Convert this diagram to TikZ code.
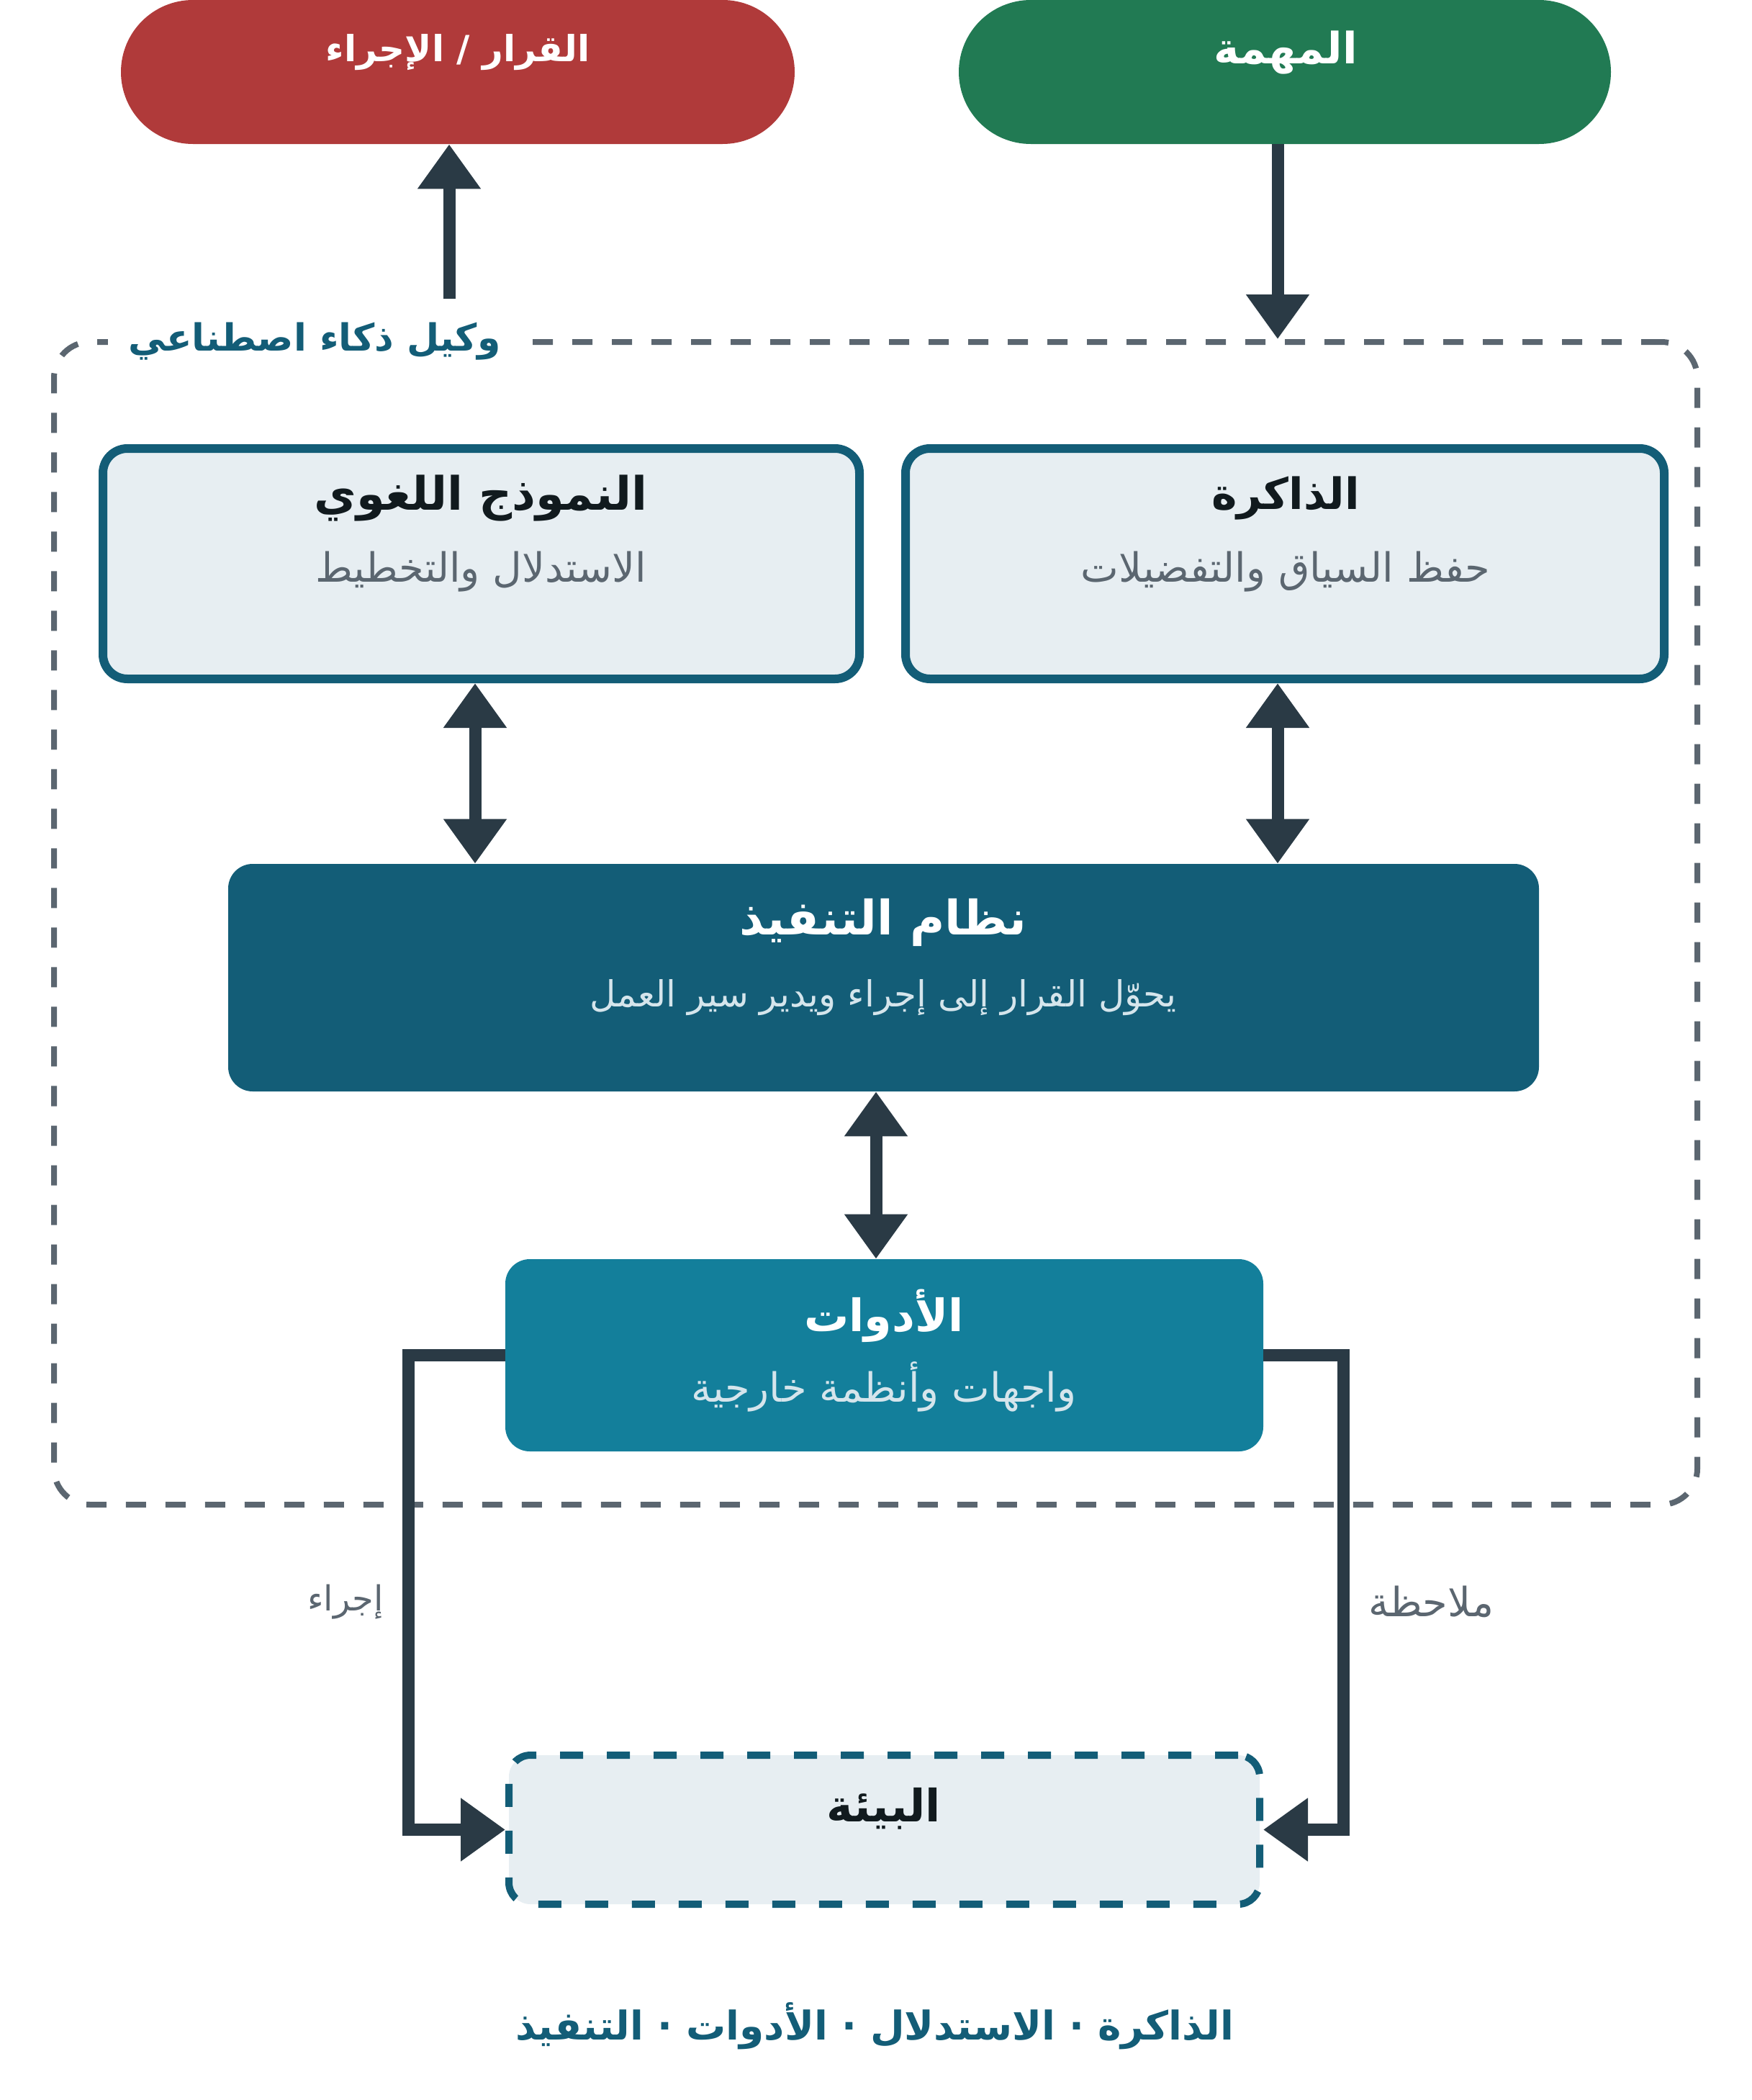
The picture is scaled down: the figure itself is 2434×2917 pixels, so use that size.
\documentclass[tikz,border=0pt]{standalone}
\usepackage{fontspec}
\usetikzlibrary{arrows.meta}
\TeXXeTstate=1
\newfontfamily\arabicfont[Script=Arabic]{DejaVu Sans}
\definecolor{redpill}{HTML}{B03A3A}
\definecolor{greenpill}{HTML}{217A53}
\definecolor{arrowdark}{HTML}{2A3A45}
\definecolor{frameg}{HTML}{5B6670}
\definecolor{tealb}{HTML}{135D77}
\definecolor{lightfill}{HTML}{E7EEF2}
\definecolor{toolsfill}{HTML}{137F9B}
\definecolor{subgray}{HTML}{5B6670}
\definecolor{sublight}{HTML}{D5E5EC}
\definecolor{titleblk}{HTML}{111A1E}
\begin{document}
\begin{tikzpicture}[x=0.5pt,y=-0.5pt,
  pill/.style={rounded corners=50pt, minimum height=100pt, inner sep=0pt, draw=none},
  lbox/.style={draw=tealb, line width=6pt, fill=lightfill, rounded corners=17pt, inner sep=0pt},
  sbox/.style={draw=none, rounded corners=17pt, inner sep=0pt},
  frame/.style={draw=frameg, line width=4pt, dash pattern=on 14pt off 13.5pt, rounded corners=25pt, inner sep=0pt},
  envbox/.style={draw=tealb, line width=5pt, dash pattern=on 16pt off 16.5pt, fill=lightfill, rounded corners=15pt, inner sep=0pt},
  ttl/.style={font=\arabicfont\bfseries\fontsize{32}{38}\selectfont, inner sep=0pt},
  sub/.style={font=\arabicfont\fontsize{28}{34}\selectfont, inner sep=0pt},
  arr/.style={draw=arrowdark, line width=8.5pt, -{Triangle[length=31pt,width=42pt]}},
  darr/.style={draw=arrowdark, line width=8.5pt, {Triangle[length=31pt,width=42pt]}-{Triangle[length=31pt,width=42pt]}},
  conn/.style={draw=arrowdark, line width=8.5pt, -{Triangle[length=31pt,width=42pt]}}
]
\useasboundingbox (0,0) rectangle (2434,2917);

% top pills
\node[pill, fill=redpill, minimum width=468pt] (decision) at (636,100) {};
\node[ttl, text=white, font=\arabicfont\bfseries\fontsize{25}{30}\selectfont] (decisiont) at (636,73) {\beginR القرار / الإجراء\endR};
\node[pill, fill=greenpill, minimum width=453pt] (task) at (1785,100) {};
\node[ttl, text=white, font=\arabicfont\bfseries\fontsize{30}{36}\selectfont] (taskt) at (1786,73) {\beginR المهمة\endR};

% agent frame
\node[frame, minimum width=1141.5pt, minimum height=807.5pt] (agent) at (1216.5,1282.5) {};
\node[fill=white, inner xsep=14pt, inner ysep=2pt, text=tealb, font=\arabicfont\bfseries\fontsize{26}{32}\selectfont] (agentt) at (437,474) {\beginR وكيل ذكاء اصطناعي\endR};

% boxes
\node[lbox, minimum width=525.5pt, minimum height=160pt] (llm) at (668.5,783) {};
\node[ttl, text=titleblk] (llmt) at (668,692) {\beginR النموذج اللغوي\endR};
\node[sub, text=subgray] (llms) at (668,794) {\beginR الاستدلال والتخطيط\endR};

\node[lbox, minimum width=527pt, minimum height=160pt] (mem) at (1785,783) {};
\node[ttl, text=titleblk, font=\arabicfont\bfseries\fontsize{30}{36}\selectfont] (memt) at (1786,692) {\beginR الذاكرة\endR};
\node[sub, text=subgray] (mems) at (1786,794) {\beginR حفظ السياق والتفضيلات\endR};

\node[sbox, fill=tealb, minimum width=910.5pt, minimum height=158pt] (exec) at (1227.5,1358) {};
\node[ttl, text=white, font=\arabicfont\bfseries\fontsize{33}{38}\selectfont] (exect) at (1227,1281) {\beginR نظام التنفيذ\endR};
\node[sub, text=sublight, font=\arabicfont\fontsize{25}{30}\selectfont] (execs) at (1227,1386) {\beginR يحوّل القرار إلى إجراء ويدير سير العمل\endR};

\node[sbox, fill=toolsfill, minimum width=526.5pt, minimum height=133.5pt] (tools) at (1228.5,1882.5) {};
\node[ttl, text=white, font=\arabicfont\bfseries\fontsize{31}{36}\selectfont] (toolst) at (1228,1828) {\beginR الأدوات\endR};
\node[sub, text=sublight] (toolss) at (1228,1926) {\beginR واجهات وأنظمة خارجية\endR};

\node[envbox, minimum width=521.5pt, minimum height=103.5pt] (env) at (1228.5,2541.5) {};
\node[ttl, text=titleblk, font=\arabicfont\bfseries\fontsize{31}{36}\selectfont] (envt) at (1228,2512) {\beginR البيئة\endR};

% coordinates
\coordinate (ca) at (624,415);
\coordinate (cg) at (1775,300);
\coordinate (cl) at (660,1000);
\coordinate (cm) at (1775,1000);
\coordinate (ce) at (1217,1600);
\coordinate (lx) at (567,2200);
\coordinate (rx) at (1866,2200);

% arrows
\draw[arr] (ca) -- (ca |- decision.south);
\draw[arr] (task.south -| cg) -- (agent.north -| cg);
\draw[darr] (llm.south -| cl) -- (exec.north -| cl);
\draw[darr] (mem.south -| cm) -- (exec.north -| cm);
\draw[darr] (exec.south -| ce) -- (tools.north -| ce);
\draw[conn] (tools.west) -| (lx) |- (env.west);
\draw[conn] (tools.east) -| (rx) |- (env.east);

% edge labels
\node[sub, text=subgray, font=\arabicfont\fontsize{24}{30}\selectfont] (lact) at (480,2225) {\beginR إجراء\endR};
\node[sub, text=subgray, font=\arabicfont\fontsize{28}{34}\selectfont] (lobs) at (1988,2225) {\beginR ملاحظة\endR};

% footer
\node[ttl, text=tealb, font=\arabicfont\bfseries\fontsize{27.5}{33}\selectfont] (footer) at (1215,2814) {\beginR الذاكرة · الاستدلال · الأدوات · التنفيذ\endR};
\end{tikzpicture}
\end{document}
